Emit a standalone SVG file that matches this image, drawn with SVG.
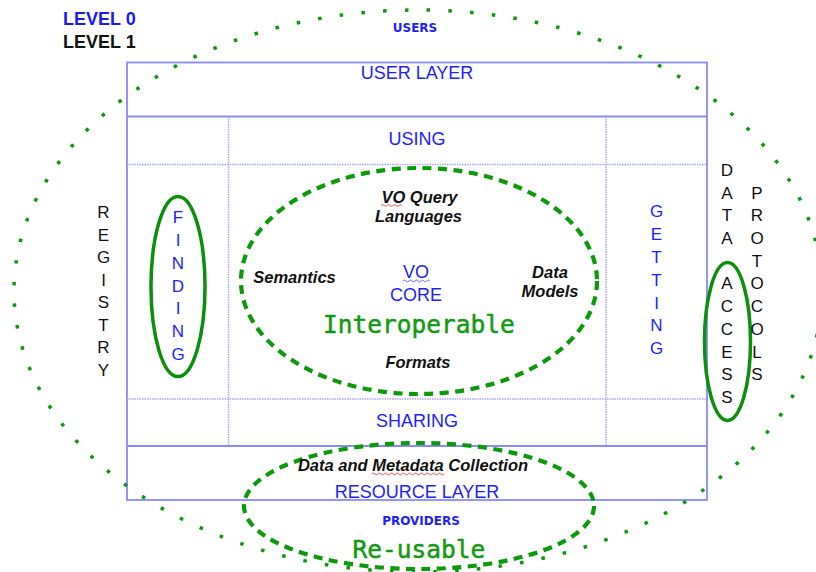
<svg xmlns="http://www.w3.org/2000/svg" width="816" height="572" viewBox="0 0 816 572">
<style>
.bg{fill:#ffffff}
.ln{stroke:#8a8aff;stroke-width:1.8;fill:none}
.dl{stroke:#a6a6ff;stroke-width:1.5;fill:none;stroke-dasharray:1.5 1}
.t{font-family:"Liberation Sans",Arial,sans-serif;font-size:18px;text-anchor:middle}
.blue{fill:#1e1eff}
.blk{fill:#111111}
.bi{font-family:"Liberation Sans",Arial,sans-serif;font-size:16.5px;font-weight:bold;font-style:italic;fill:#111111;text-anchor:middle}
.sm{font-family:"DejaVu Sans",Verdana,sans-serif;font-size:12px;font-weight:bold;fill:#1e1eff;text-anchor:middle}
.mono{font-family:"DejaVu Sans Mono","Liberation Mono",monospace;font-size:24.5px;fill:#139a13;stroke:#139a13;stroke-width:0.5;text-anchor:middle}
.lv{font-family:"Liberation Sans",Arial,sans-serif;font-size:18px;font-weight:bold}
.vt{font-family:"Liberation Sans",Arial,sans-serif;font-size:17px;text-anchor:middle}
.dots{fill:none;stroke:#0a9a0a;stroke-width:3.5;stroke-dasharray:3.5 18.3}
.dash{fill:none;stroke:#0a9a0a;stroke-width:4.2;stroke-dasharray:9 6.5}
.solid{fill:none;stroke:#0a900a;stroke-width:3.5}
.sq{fill:none;stroke:#e03030;stroke-width:0.8}
</style>
<rect class="bg" x="0" y="0" width="816" height="572"/>

<g id="levels">
<text class="lv" x="63" y="25" fill="#1a1aee">LEVEL 0</text>
<text class="lv" x="63" y="48" fill="#111111">LEVEL 1</text>
</g>

<g id="layers-frame">
<rect class="ln" x="127" y="62.5" width="580" height="437.5"/>
<line class="ln" x1="127" y1="116.5" x2="707" y2="116.5"/>
<line class="ln" x1="127" y1="446" x2="707" y2="446"/>
<line class="dl" x1="127" y1="164.5" x2="707" y2="164.5"/>
<line class="dl" x1="127" y1="399" x2="707" y2="399"/>
<line class="dl" x1="228.5" y1="116.5" x2="228.5" y2="446"/>
<line class="dl" x1="606" y1="116.5" x2="606" y2="446"/>
</g>

<g id="users-ellipse">
<ellipse class="dots" cx="418" cy="291" rx="404" ry="281"/>
</g>

<g id="interoperable-ellipse">
<ellipse class="dash" cx="419" cy="281" rx="178" ry="113"/>
</g>

<g id="reusable-ellipse">
<ellipse class="dash" cx="419" cy="506" rx="175" ry="63"/>
</g>

<g id="finding-ellipse">
<ellipse class="solid" cx="178" cy="286.5" rx="27" ry="90"/>
</g>

<g id="access-ellipse">
<ellipse class="solid" cx="727.5" cy="341.5" rx="23" ry="79"/>
</g>

<g id="users"><text class="sm" x="415" y="31.5">USERS</text></g>
<g id="user-layer"><text class="t blue" x="417" y="79">USER LAYER</text></g>
<g id="using"><text class="t blue" x="417" y="145">USING</text></g>
<g id="sharing"><text class="t blue" x="417" y="427">SHARING</text></g>

<g id="vo-core">
<text class="t blue" x="416" y="278">VO</text>
<text class="t blue" x="416" y="301">CORE</text>
<path class="sq" style="stroke:#4a4aff" d="M403 281 q1.5 -2 3 0 t3 0 t3 0 t3 0 t3 0 t3 0 t3 0 t3 0 t3 0"/>
</g>

<g id="vo-query">
<text class="bi" x="419.5" y="203">VO Query</text>
<text class="bi" x="418.5" y="222">Languages</text>
<path class="sq" d="M381 205.5 q1.5 -2 3 0 t3 0 t3 0 t3 0 t3 0 t3 0 t3 0"/>
</g>
<g id="semantics"><text class="bi" x="294.5" y="283">Semantics</text></g>
<g id="data-models">
<text class="bi" x="550" y="278">Data</text>
<text class="bi" x="550" y="297">Models</text>
</g>
<g id="formats"><text class="bi" x="418" y="368">Formats</text></g>
<g id="interoperable"><text class="mono" x="419" y="333">Interoperable</text></g>

<g id="collection">
<text class="bi" x="413" y="471">Data and Metadata Collection</text>
<path class="sq" d="M372 474 q1.5 -2 3 0 t3 0 t3 0 t3 0 t3 0 t3 0 t3 0 t3 0 t3 0 t3 0 t3 0 t3 0 t3 0 t3 0 t3 0 t3 0 t3 0 t3 0 t3 0 t3 0 t3 0 t3 0 t3 0 t3 0"/>
</g>
<g id="resource-layer"><text class="t blue" x="417" y="498">RESOURCE LAYER</text></g>
<g id="providers"><text class="sm" x="421" y="525">PROVIDERS</text></g>
<g id="reusable"><text class="mono" x="419" y="558">Re-usable</text></g>

<g id="registry">
<text class="vt blk" x="103.5" y="218">R</text>
<text class="vt blk" x="103.5" y="240.5">E</text>
<text class="vt blk" x="103.5" y="263">G</text>
<text class="vt blk" x="103.5" y="285.5">I</text>
<text class="vt blk" x="103.5" y="308">S</text>
<text class="vt blk" x="103.5" y="330.5">T</text>
<text class="vt blk" x="103.5" y="353">R</text>
<text class="vt blk" x="103.5" y="375.5">Y</text>
</g>

<g id="finding">
<text class="vt blue" x="178" y="223">F</text>
<text class="vt blue" x="178" y="246">I</text>
<text class="vt blue" x="178" y="268.5">N</text>
<text class="vt blue" x="178" y="291.5">D</text>
<text class="vt blue" x="178" y="314">I</text>
<text class="vt blue" x="178" y="337">N</text>
<text class="vt blue" x="178" y="360">G</text>
</g>

<g id="getting">
<text class="vt blue" x="656.5" y="217">G</text>
<text class="vt blue" x="656.5" y="240">E</text>
<text class="vt blue" x="656.5" y="263">T</text>
<text class="vt blue" x="656.5" y="286">T</text>
<text class="vt blue" x="656.5" y="308.5">I</text>
<text class="vt blue" x="656.5" y="331">N</text>
<text class="vt blue" x="656.5" y="354">G</text>
</g>

<g id="data-access">
<text class="vt blk" x="727" y="176">D</text>
<text class="vt blk" x="727" y="198.5">A</text>
<text class="vt blk" x="727" y="221">T</text>
<text class="vt blk" x="727" y="243.5">A</text>
<text class="vt blk" x="727" y="289">A</text>
<text class="vt blk" x="727" y="312">C</text>
<text class="vt blk" x="727" y="334.5">C</text>
<text class="vt blk" x="727" y="357.5">E</text>
<text class="vt blk" x="727" y="380">S</text>
<text class="vt blk" x="727" y="403">S</text>
</g>

<g id="protocols">
<text class="vt blk" x="757" y="198.5">P</text>
<text class="vt blk" x="757" y="221">R</text>
<text class="vt blk" x="757" y="243.5">O</text>
<text class="vt blk" x="757" y="266.5">T</text>
<text class="vt blk" x="757" y="289">O</text>
<text class="vt blk" x="757" y="312">C</text>
<text class="vt blk" x="757" y="334.5">O</text>
<text class="vt blk" x="757" y="357.5">L</text>
<text class="vt blk" x="757" y="380">S</text>
</g>

<g id="connectors"></g>
</svg>
